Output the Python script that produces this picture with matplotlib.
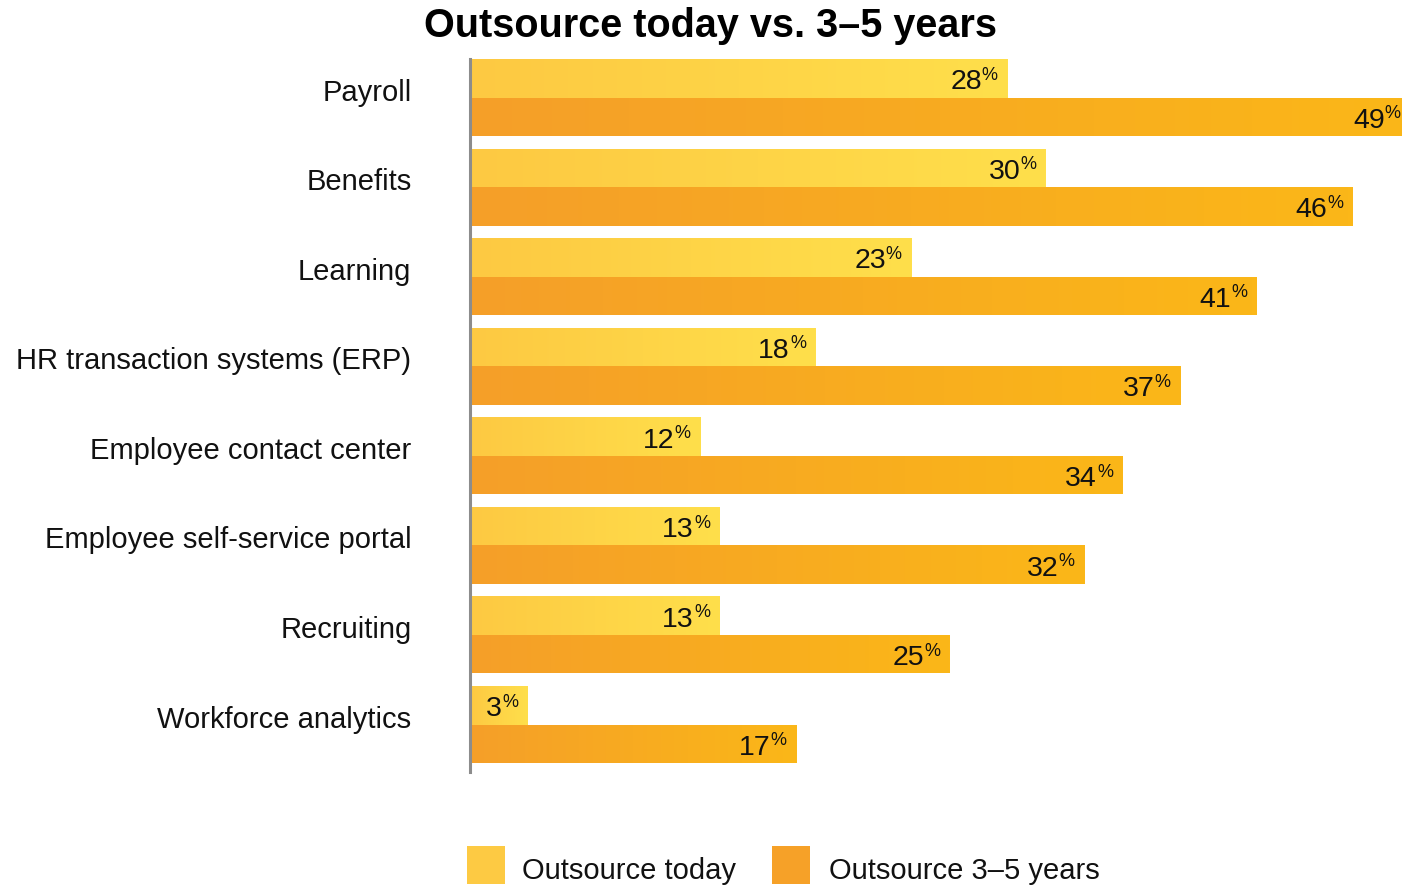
import numpy as np
import matplotlib
matplotlib.use("Agg")
import matplotlib.pyplot as plt
from matplotlib.patches import Rectangle
from matplotlib.colors import LinearSegmentedColormap

plt.rcParams["font.family"] = ["Liberation Sans", "DejaVu Sans"]

# ---- data ----
categories = [
    "Payroll",
    "Benefits",
    "Learning",
    "HR transaction systems (ERP)",
    "Employee contact center",
    "Employee self-service portal",
    "Recruiting",
    "Workforce analytics",
]
today = [28, 30, 23, 18, 12, 13, 13, 3]
future = [49, 46, 41, 37, 34, 32, 25, 17]
series_names = ["Outsource today", "Outsource 3\u20135 years"]
title = "Outsource today vs. 3\u20135 years"

# ---- styling ----
W, H = 1402, 885
DPI = 100
yellow_cmap = LinearSegmentedColormap.from_list("yel", ["#FDC942", "#FFDF4B"])
orange_cmap = LinearSegmentedColormap.from_list("org", ["#F59F29", "#FBB718"])
legend_colors = ["#FDCA43", "#F6A128"]
bar_h = 0.43

fig = plt.figure(figsize=(W / DPI, H / DPI), dpi=DPI)

def fx(px):
    return px / W

def fy(py):
    return 1 - py / H

# axes: left edge at x=470 px, 19.19 px per percent, vertical span 59..772 px
ax_left, ax_top, ax_bottom = 469.5, 59.0, 772.0
px_per_unit = 19.19
xmax = 50
ax = fig.add_axes([fx(ax_left), fy(ax_bottom), xmax * px_per_unit / W,
                   (ax_bottom - ax_top) / H])

y = np.arange(len(categories))
y_today = y - bar_h / 2
y_future = y + bar_h / 2

bars_t = ax.barh(y_today, today, height=bar_h, color="none", linewidth=0)
bars_f = ax.barh(y_future, future, height=bar_h, color="none", linewidth=0)

# left-to-right gradient fill inside every bar
grad = np.linspace(0, 1, 256).reshape(1, -1)
for bars, cmap in ((bars_t, yellow_cmap), (bars_f, orange_cmap)):
    for patch in bars:
        x0, y0 = patch.get_x(), patch.get_y()
        w, h = patch.get_width(), patch.get_height()
        im = ax.imshow(grad, cmap=cmap, aspect="auto", interpolation="bilinear",
                       extent=(x0, x0 + w, y0, y0 + h), zorder=2)
        im.set_clip_path(patch)

ax.set_xlim(0, xmax)
ax.set_ylim(len(categories) - 1 + bar_h + 0.1, -bar_h)

for s in ("top", "right", "bottom"):
    ax.spines[s].set_visible(False)
ax.spines["left"].set_color("#8C8C8C")
ax.spines["left"].set_linewidth(2.2)
ax.spines["left"].set_zorder(5)
ax.set_xticks([])
ax.set_yticks([])
ax.patch.set_alpha(0)

# category labels
for yi, name in zip(y, categories):
    ax.annotate(name, xy=(0, yi), xycoords=("axes fraction", "data"),
                xytext=(-58, 5), textcoords="offset pixels",
                ha="right", va="center", fontsize=21, color="#111111")

# value labels with superscript percent sign
def value_label(v, yc):
    ax.annotate("%", xy=(v, yc), xytext=(-9, -1.5), textcoords="offset pixels",
                ha="right", va="baseline", fontsize=13, color="#111111", zorder=6)
    ax.annotate(f"{v}", xy=(v, yc), xytext=(-25, -11), textcoords="offset pixels",
                ha="right", va="baseline", fontsize=20.5, color="#111111", zorder=6)

for v, yc in zip(today, y_today):
    value_label(v, yc)
for v, yc in zip(future, y_future):
    value_label(v, yc)

# title
fig.text(fx(710), fy(26), title, ha="center", va="center",
         fontsize=28.5, fontweight="bold", color="#000000")

# legend
leg_items = [(467, 522), (772, 829)]
for (sx, tx), name, col in zip(leg_items, series_names, legend_colors):
    fig.patches.append(Rectangle((fx(sx), fy(884)), fx(38), 38 / H,
                                 transform=fig.transFigure, facecolor=col,
                                 edgecolor="none"))
    fig.text(fx(tx), fy(871), name, ha="left", va="center",
             fontsize=21, color="#111111")

fig.savefig("out.png", dpi=DPI)
